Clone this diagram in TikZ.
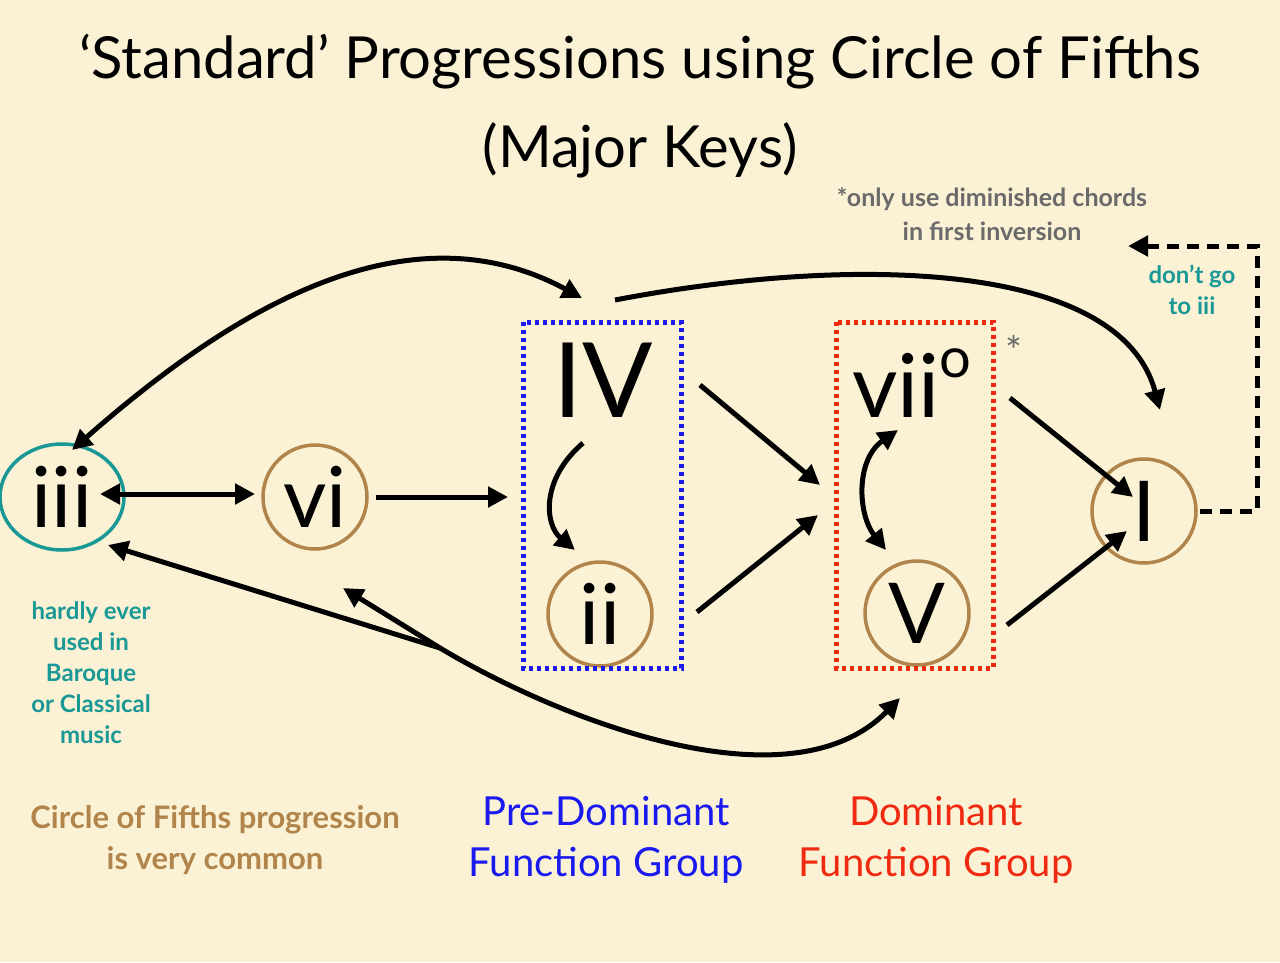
\documentclass[tikz,border=0pt]{standalone}
\usepackage{fontspec}
\setmainfont{Lato}
\usetikzlibrary{arrows.meta,shapes.geometric}
\definecolor{bg}{HTML}{FBF2D5}
\definecolor{teal2}{HTML}{1A9896}
\definecolor{brn}{HTML}{B0844A}
\definecolor{blu}{HTML}{1A1AF0}
\definecolor{rd}{HTML}{F02A10}
\definecolor{gry}{HTML}{6A6A6A}
\begin{document}
\begin{tikzpicture}[x=1pt,y=-1pt,
  arr/.style={line width=5pt,-{Triangle[length=20pt,width=20pt]}},
  darr/.style={line width=5pt,{Triangle[length=20pt,width=20pt]}-{Triangle[length=20pt,width=20pt]}},
  chord/.style={circle,draw=brn,line width=3.5pt,minimum size=104pt,inner sep=0pt,font=\fontsize{84}{84}\selectfont},
  lab/.style={align=center,font=\fontsize{24}{31}\selectfont\bfseries},
  big/.style={align=center,font=\fontsize{34}{42}\selectfont},
  box/.style={line width=5pt,dash pattern=on 4pt off 4pt}]
\fill[bg] (0,0) rectangle (1280,962);
\useasboundingbox (0,0) rectangle (1280,962);
\node (t1) at (640,62) {\fontsize{58}{58}\selectfont ‘Standard’ Progressions using Circle of Fifths};
\node (t2) at (640,150) {\fontsize{58}{58}\selectfont (Major Keys)};
\node[lab,text=gry,font=\fontsize{25}{34}\selectfont\bfseries] (note) at (992,214) {*only use diminished chords\\in first inversion};
\node[lab,text=teal2] (dg) at (1192,290) {don’t go\\to iii};
\node[chord,draw=teal2,ellipse,minimum width=124pt,minimum height=106pt] (iii) at (62,497) {iii};
\node[chord] (vi) at (315,497) {vi};
\node[chord] (ii) at (600,614) {ii};
\node[chord] (V) at (917,613) {V};
\node[chord] (I) at (1144,511) {I};
\node[font=\fontsize{104}{104}\selectfont] (IV) at (603,380) {IV};
\node[font=\fontsize{88}{88}\selectfont] (vii) at (912,383) {vii\raisebox{0.45em}{\fontsize{56}{56}\selectfont o}};
\node[text=gry,font=\fontsize{40}{40}\selectfont] (ast) at (1014,350) {*};
\draw[blu,box] (523,322) rectangle (681,668);
\draw[rd,box] (836,322) rectangle (993,668);
\coordinate (dA) at (1200,511); \coordinate (dB) at (1257,511);
\coordinate (dC) at (1257,246); \coordinate (dD) at (1128,246);
\draw[line width=5pt,dash pattern=on 12pt off 8pt,-{Triangle[length=20pt,width=20pt]}] (dA) -- (dB) -- (dC) -- (dD);
\coordinate (a1) at (100,494); \coordinate (a2) at (255,494);
\draw[darr] (a1) -- (a2);
\coordinate (b1) at (376,497); \coordinate (b2) at (508,497);
\draw[arr] (b1) -- (b2);
\coordinate (c1) at (583,443); \coordinate (c2) at (575,550);
\draw[arr] (c1) .. controls (540,480) and (545,525) .. (c2);
\coordinate (d1) at (700,385); \coordinate (d2) at (820,485);
\draw[arr] (d1) -- (d2);
\coordinate (e1) at (697,612); \coordinate (e2) at (818,515);
\draw[arr] (e1) -- (e2);
\coordinate (f1) at (898,430); \coordinate (f2) at (886,550);
\draw[darr] (f1) .. controls (855,460) and (858,515) .. (f2);
\coordinate (g1) at (1010,398); \coordinate (g2) at (1133,497);
\draw[arr] (g1) -- (g2);
\coordinate (h1) at (1007,625); \coordinate (h2) at (1127,531);
\draw[arr] (h1) -- (h2);
\coordinate (k1) at (72,450); \coordinate (k2) at (582,298);
\draw[darr] (k1) .. controls (220,320) and (400,200) .. (k2);
\coordinate (m1) at (615,300); \coordinate (m2) at (1160,410);
\draw[arr] (m1) .. controls (850,255) and (1120,260) .. (m2);
\coordinate (n0) at (440,648); \coordinate (n1) at (108,545);
\coordinate (n2) at (343,588); \coordinate (n3) at (900,698);
\draw[arr] (n0) -- (n1);
\draw[arr] (n0) -- (n2);
\draw[arr] (n0) .. controls (560,720) and (790,810) .. (n3);
\node[lab,text=teal2] (hard) at (91,673) {hardly ever\\used in\\Baroque\\or Classical\\music};
\node[big,text=brn,font=\fontsize{31}{41}\selectfont\bfseries] (cf) at (215,840) {Circle of Fifths progression\\is very common};
\node[big,text=blu,font=\fontsize{40}{51}\selectfont] (pd) at (606,840) {Pre-Dominant\\Function Group};
\node[big,text=rd,font=\fontsize{40}{51}\selectfont] (dm) at (936,840) {Dominant\\Function Group};
\end{tikzpicture}
\end{document}
